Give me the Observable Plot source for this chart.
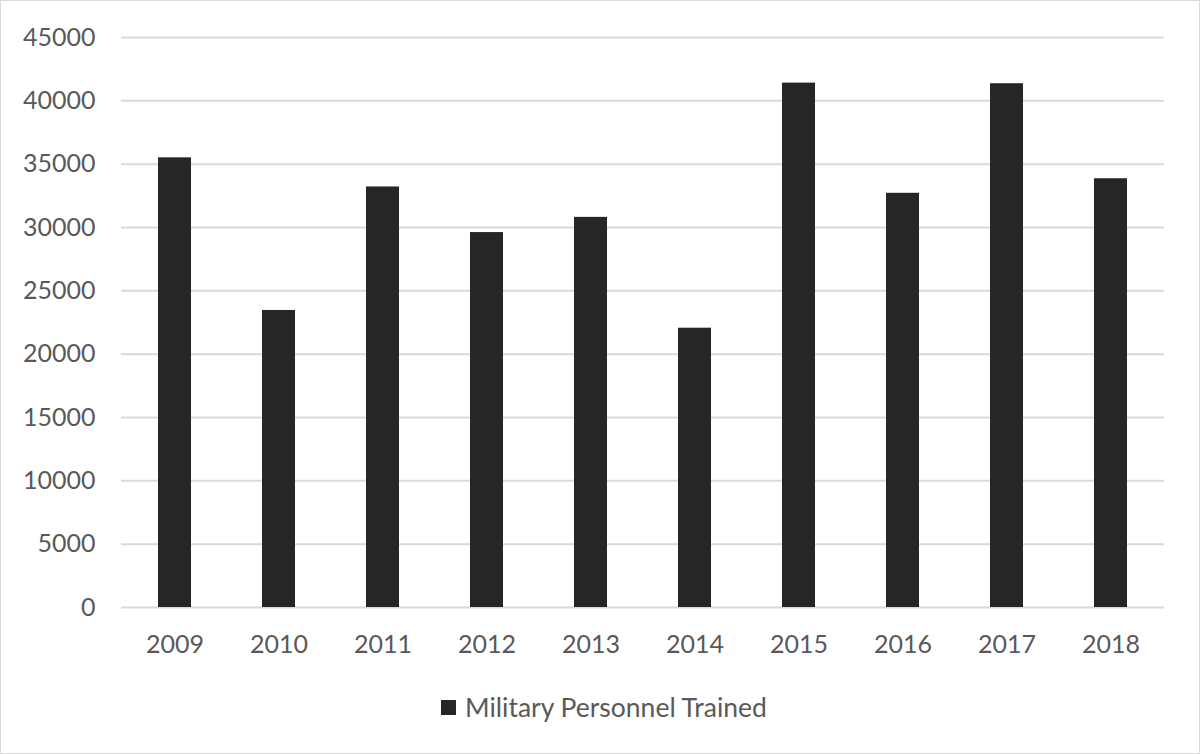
<!DOCTYPE html>
<html>
<head>
<meta charset="utf-8">
<script src="https://cdn.jsdelivr.net/npm/d3@7"></script>
<script src="https://cdn.jsdelivr.net/npm/@observablehq/plot@0.6"></script>
<style>
  html, body { margin: 0; padding: 0; background: #fff; }
  #wrap {
    width: 1200px; height: 754px; box-sizing: border-box;
    border: 1px solid #d9d9d9; position: relative; overflow: hidden;
    font-family: Lato, "Open Sans", sans-serif;
  }
  #chart svg { display: block; }
  #legend {
    position: absolute; left: 0; right: 0; top: 688px; height: 36px;
    display: flex; justify-content: center; align-items: center;
    color: #595959; font-size: 26.5px;
  }
  #legend .sw { width: 15px; height: 15px; background: #262626; margin-right: 9px; margin-left: 8px; }
</style>
</head>
<body>
<div id="wrap">
  <div id="chart"></div>
  <div id="legend"><span class="sw"></span><span>Military Personnel Trained</span></div>
</div>
<script>
const years = ["2009","2010","2011","2012","2013","2014","2015","2016","2017","2018"];
const trained = [35500, 23450, 33200, 29600, 30800, 22050, 41400, 32700, 41350, 33850];
const yTicks = [0,5000,10000,15000,20000,25000,30000,35000,40000,45000];

const data = years.map((y, i) => ({year: y, value: trained[i]}));

const chart = Plot.plot({
  width: 1198,
  height: 679,
  marginLeft: 120,
  marginRight: 35,
  marginTop: 36,
  marginBottom: 73,
  style: {fontFamily: "Lato, 'Open Sans', sans-serif", fontSize: "25px", color: "#595959", background: "#fff"},
  x: {domain: years, paddingInner: 0.68, paddingOuter: 0.34, label: null},
  y: {domain: [0, 45000], label: null},
  marks: [
    Plot.ruleY(yTicks, {stroke: "#d9d9d9", strokeWidth: 2}),
    Plot.barY(data, {x: "year", y: "value", fill: "#262626"}),
    Plot.axisX({tickSize: 0, tickPadding: 28, fill: "#595959"}),
    Plot.axisY({ticks: yTicks, tickFormat: d3.format("d"), tickSize: 0, tickPadding: 26, fill: "#595959"})
  ]
});
document.getElementById("chart").appendChild(chart);
</script>
</body>
</html>
